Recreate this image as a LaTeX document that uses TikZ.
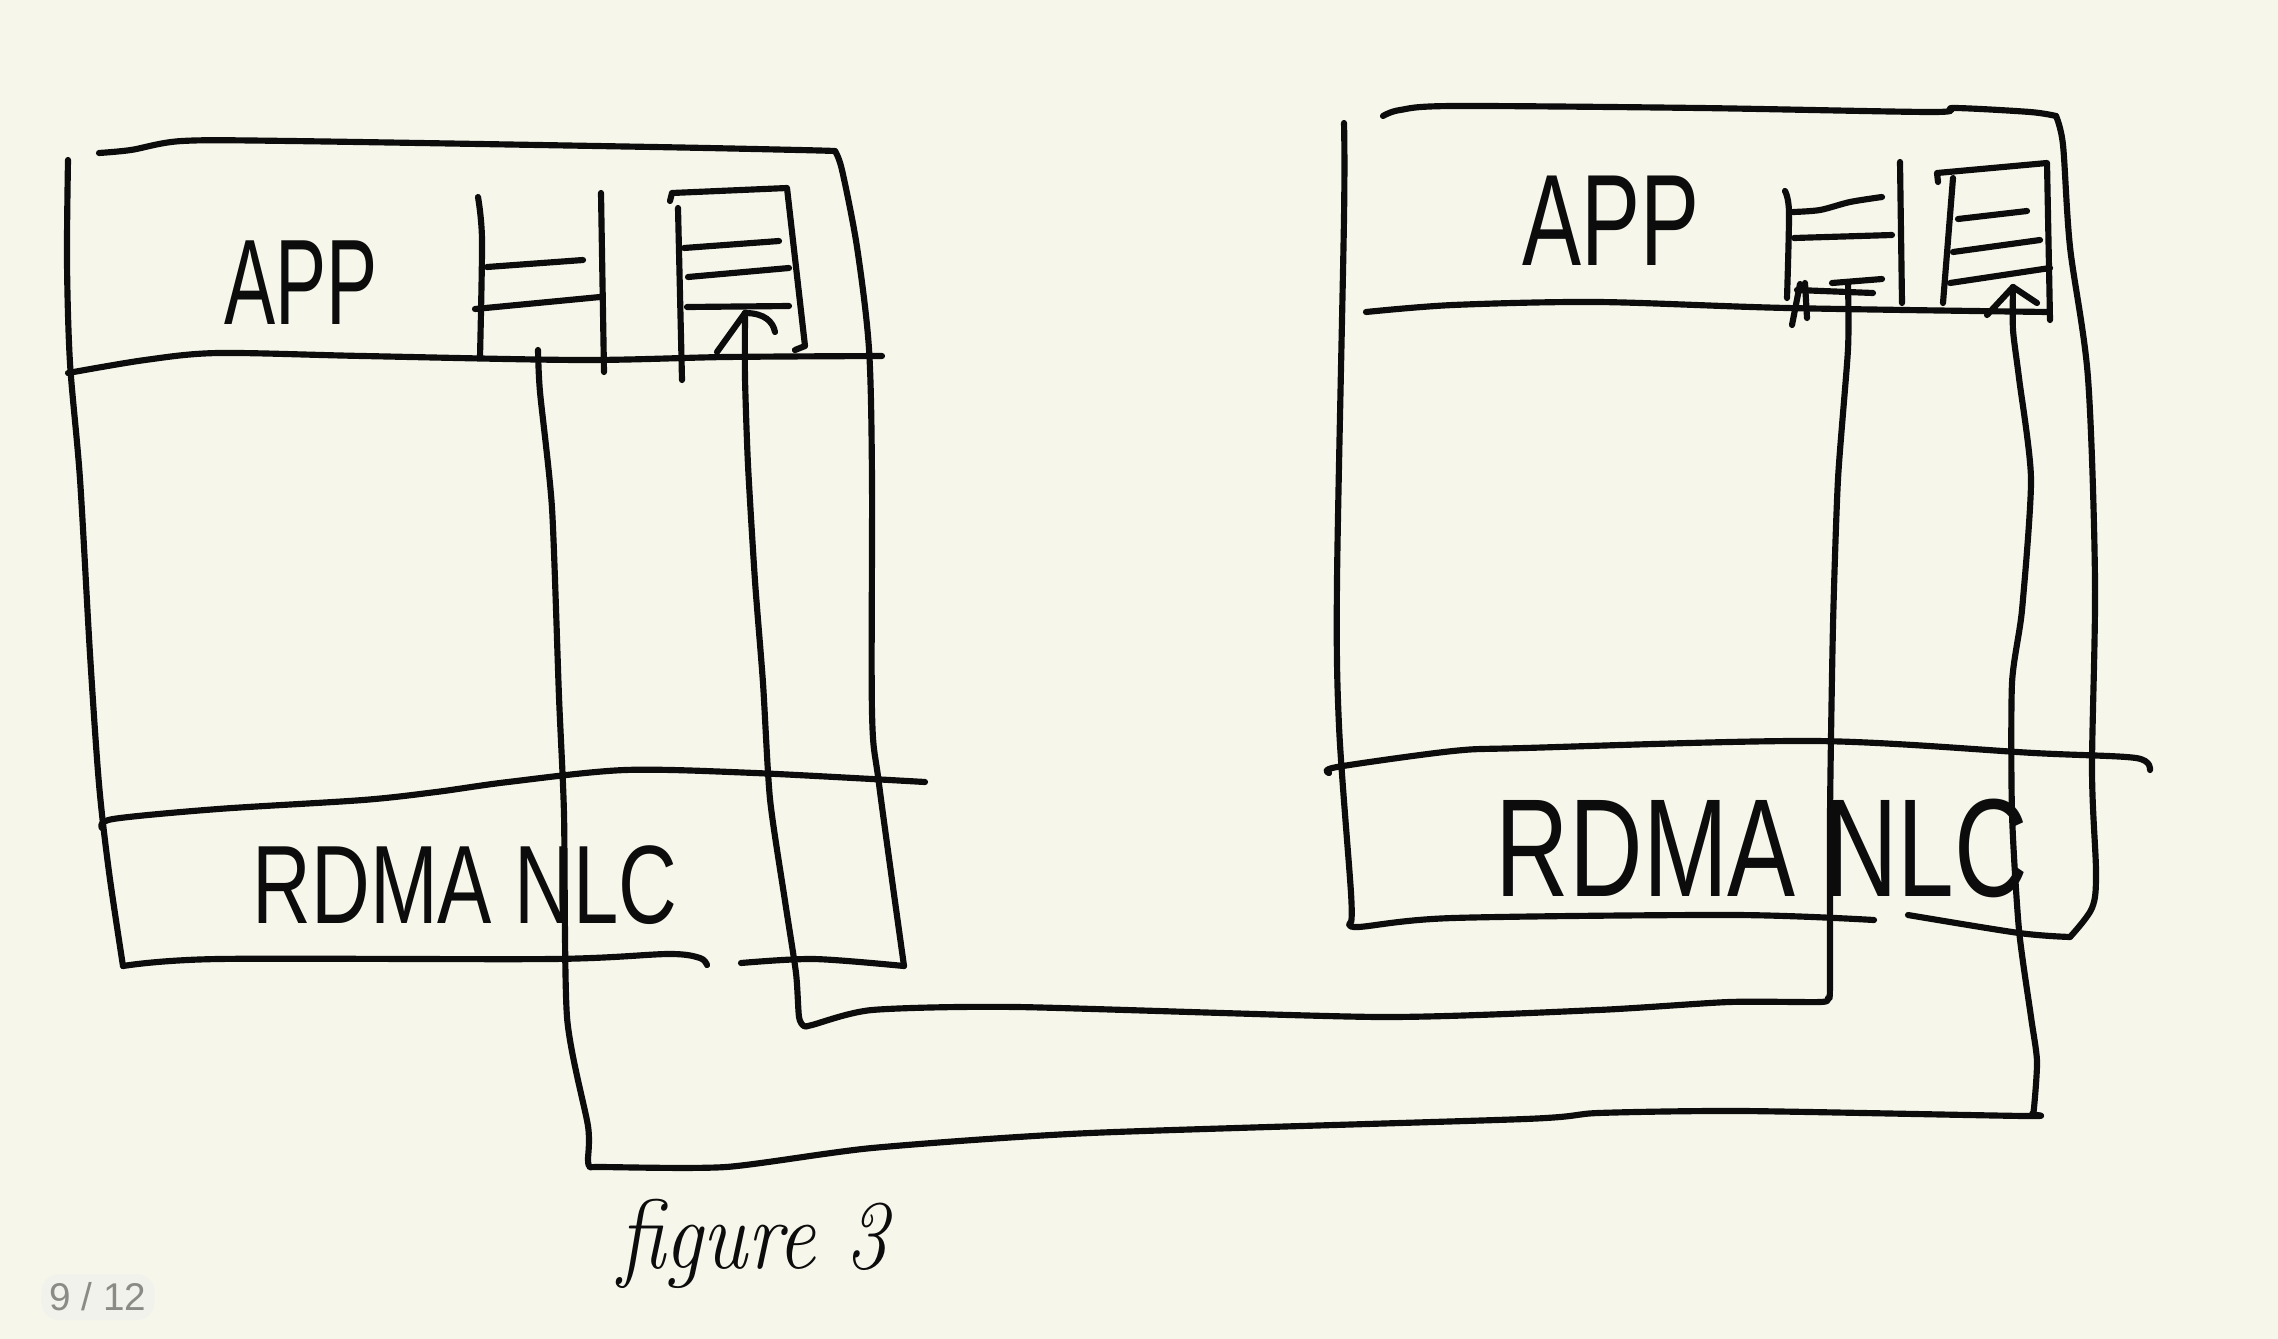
\documentclass[tikz,border=0pt]{standalone}
\usepackage{fontspec}
\usepackage{graphicx}
\newfontfamily\handsans{Liberation Sans}
\definecolor{paper}{RGB}{246,246,235}
\definecolor{ink}{RGB}{12,12,12}
\definecolor{badgebg}{RGB}{242,242,237}
\definecolor{badgefg}{RGB}{138,138,134}
\begin{document}
\begin{tikzpicture}[x=0.01cm,y=-0.01cm,
  pen/.style={draw=ink,line width=1.75pt,line cap=round,line join=round},
  wire/.style={pen},
  lbl/.style={inner sep=0pt,text=ink,font=\handsans}]
\useasboundingbox (0,0) rectangle (2278,1339);
\fill[paper] (0,0) rectangle (2278,1339);

% ---------- left host ----------
\draw[pen] plot[smooth,tension=0.5] coordinates {(99,153) (131,150) (182,141) (291,141) (654,147) (799,150) (835,151)};
\draw[pen] plot[smooth,tension=0.5] coordinates {(835,151) (842,170) (857,247) (869,349) (872,480) (872,712) (879,784) (904,966)};
\draw[pen] plot[smooth,tension=0.5] coordinates {(68,160) (67,262) (70,363) (80,479) (90,654) (99,784) (109,872) (123,966)};
\draw[pen] plot[smooth,tension=0.5] coordinates {(123,966) (218,959) (552,959) (668,954) (700,958) (707,965)};
\draw[pen] plot[smooth,tension=0.5] coordinates {(741,963) (814,959) (904,966)};
\draw[pen] plot[smooth,tension=0.5] coordinates {(68,373) (145,360) (218,353) (363,356) (581,360) (726,357) (882,356)};
\draw[pen] plot[smooth,tension=0.5] coordinates {(102,828) (113,819) (218,809) (363,800) (436,792) (508,782) (625,770) (755,773) (925,782)};

\node[lbl] (appL) at (301,283) {\fontsize{34.6}{40}\selectfont\scalebox{0.63}[1]{APP}};
\node[lbl] (nicL) at (465,885) {\fontsize{31.7}{36}\selectfont\scalebox{0.73}[1]{RDMA NLC}};

% left queue 1
\draw[pen] plot[smooth,tension=0.5] coordinates {(478,197) (482,240) (480,357)};
\draw[pen] (601,193) -- (604,372);
\draw[pen] (487,267) -- (583,260);
\draw[pen] (475,309) -- (600,297);
% left queue 2
\draw[pen] (670,201) -- (672,193) -- (787,188) -- (805,346) -- (795,350);
\draw[pen] (678,208) -- (682,380);
\draw[pen] (684,248) -- (779,241);
\draw[pen] (688,277) -- (789,268);
\draw[pen] (687,307) -- (789,306);

% ---------- right host ----------
\draw[pen] plot[smooth,tension=0.5] coordinates {(1383,116) (1400,110) (1453,106) (1700,108) (1932,112) (1954,108) (2030,112) (2056,116)};
\draw[pen] plot[smooth,tension=0.5] coordinates {(2056,116) (2063,145) (2070,247) (2088,378) (2095,581) (2092,770) (2096,872) (2092,908) (2070,937)};
\draw[pen] plot[smooth,tension=0.5] coordinates {(2070,937) (2019,933) (1908,915)};
\draw[pen] plot[smooth,tension=0.5] coordinates {(1351,922) (1358,927) (1453,918) (1736,915) (1874,920)};
\draw[pen] plot[smooth,tension=0.5] coordinates {(1344,123) (1344,218) (1337,581) (1339,726) (1351,893) (1351,922)};
\draw[pen] plot[smooth,tension=0.5] coordinates {(1366,312) (1453,305) (1598,302) (1787,308) (2048,312)};
\draw[pen] plot[smooth,tension=0.5] coordinates {(1329,773) (1337,767) (1453,751) (1525,748) (1816,741) (2034,753) (2136,758) (2150,770)};

\node[lbl] (appR) at (1611,221) {\fontsize{37}{42}\selectfont\scalebox{0.68}[1]{APP}};
\node[lbl] (nicR) at (1762,848) {\fontsize{39.7}{45}\selectfont\scalebox{0.73}[1]{RDMA NLC}};

% right queue 1
\draw[pen] plot[smooth,tension=0.5] coordinates {(1785,191) (1789,212) (1787,298)};
\draw[pen] plot[smooth,tension=0.5] coordinates {(1793,212) (1820,210) (1850,202) (1882,197)};
\draw[pen] (1794,238) -- (1892,235);
\draw[pen] (1797,290) -- (1873,293);
\draw[pen] (1900,162) -- (1902,303);
\draw[pen] (1832,283) -- (1882,279);
\draw[pen] (1792,325) -- (1800,284);
\draw[pen] (1805,283) -- (1807,318);
% right queue 2
\draw[pen] (1938,182) -- (1937,173) -- (2047,163) -- (2050,320);
\draw[pen] (1953,178) -- (1943,303);
\draw[pen] (1958,219) -- (2027,211);
\draw[pen] (1953,252) -- (2040,240);
\draw[pen] (1950,283) -- (2050,268);

% ---------- connectors ----------
\coordinate (aS) at (538,350);
\coordinate (aE) at (2013,287);
\coordinate (bS) at (1848,283);
\coordinate (bE) at (745,313);

\draw[wire] plot[smooth,tension=0.4] coordinates {(aS) (540,392) (552,508) (559,697) (564,814) (567,1017) (588,1126) (588,1160) (590,1167) (600,1167) (726,1167) (872,1148) (1090,1133) (1525,1119) (1598,1113) (1743,1111) (2025,1116) (2032,1114) (2034,1108) (2037,1061) (2031,1017) (2019,930) (2012,814) (2012,683) (2022,610) (2031,479) (2019,378) (2013,330) (aE)};
\draw[pen] (aE) -- +(-26,28);
\draw[pen] (aE) -- +(24,16);

\draw[wire] plot[smooth,tension=0.4] coordinates {(bS) (1848,349) (1838,479) (1833,625) (1830,814) (1830,985) (1828,998) (1820,1002) (1729,1002) (1598,1010) (1380,1017) (1017,1007) (872,1010) (812,1025) (804,1026) (799,1017) (796,973) (785,901) (770,799) (763,683) (755,581) (748,465) (745,378) (bE)};
\draw[pen] (bE) -- +(-28,39);
\draw[pen] (bE) .. controls +(20,0) and +(-2,-10) .. +(30,19);

% ---------- caption and page badge ----------
\node[lbl,anchor=base] (cap) at (753,1268) {\fontsize{28}{32}\selectfont\rmfamily\itshape\scalebox{0.86}[1]{figure 3}};
\node[fill=badgebg,rounded corners=5pt,minimum width=1.13cm,minimum height=0.46cm,inner sep=0pt,text=badgefg,font=\handsans\fontsize{11}{12}\selectfont] (badge) at (98,1297) {9 / 12};
\end{tikzpicture}
\end{document}
